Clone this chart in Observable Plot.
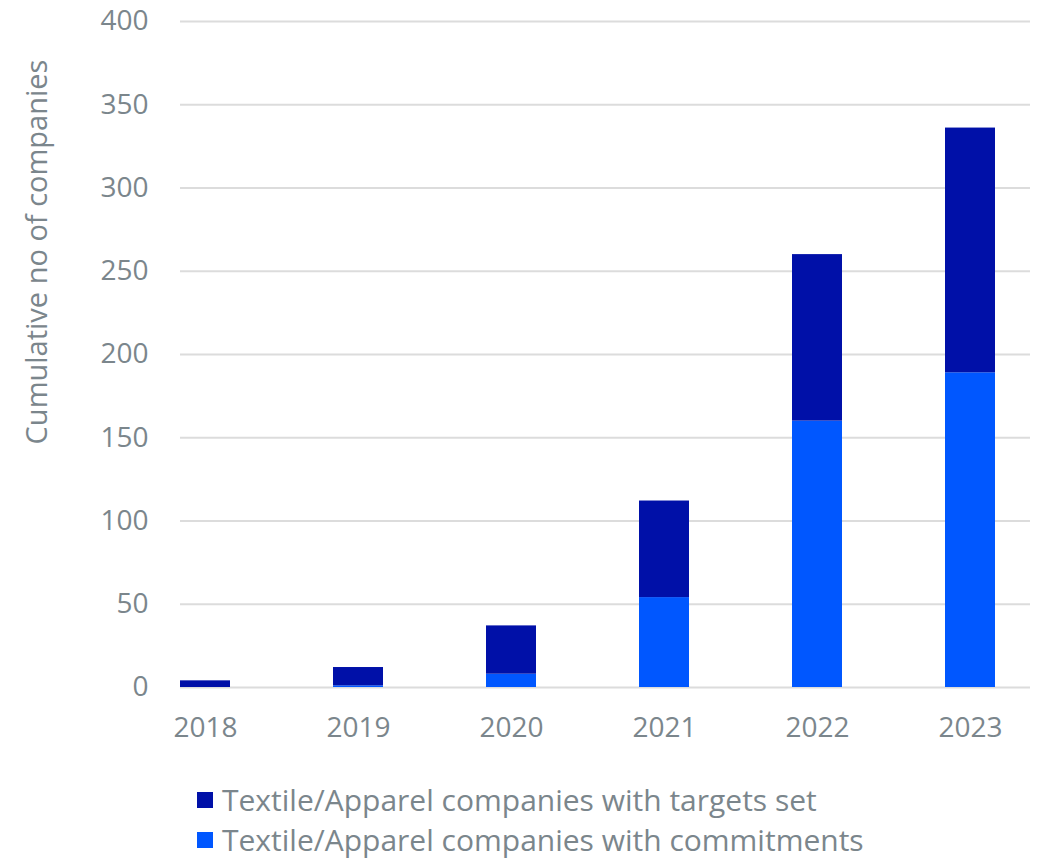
<!DOCTYPE html>
<html>
<head>
<meta charset="utf-8">
<script src="https://cdn.jsdelivr.net/npm/d3@7"></script>
<script src="https://cdn.jsdelivr.net/npm/@observablehq/plot@0.6"></script>
<style>
  html, body { margin: 0; padding: 0; background: #fff; }
  #wrap { position: relative; width: 1040px; height: 860px; font-family: "Open Sans", sans-serif; color: #7b868c; }
  #legend { position: absolute; left: 197px; top: 780px; font-size: 30px; line-height: 40px; }
  .row { display: flex; align-items: center; white-space: nowrap; }
  .sw { width: 16px; height: 16px; margin-right: 9px; flex: none; }
  #ylabel { position: absolute; left: 35px; top: 252px; font-size: 29px; white-space: nowrap;
            transform: translate(-50%, -50%) rotate(-90deg); }
</style>
</head>
<body>
<div id="wrap">
  <div id="chart"></div>
  <div id="ylabel"></div>
  <div id="legend"></div>
</div>
<script>
const years = ["2018", "2019", "2020", "2021", "2022", "2023"];
const commitments = [0, 1, 8, 54, 160, 189];
const targetsSet = [4, 11, 29, 58, 100, 147];
const seriesNames = ["Textile/Apparel companies with targets set", "Textile/Apparel companies with commitments"];
const seriesColors = ["#0010A8", "#0057FF"];
const yTicks = [0, 50, 100, 150, 200, 250, 300, 350, 400];
const yLabel = "Cumulative no of companies";

const data = [];
years.forEach((y, i) => data.push({year: y, series: seriesNames[1], value: commitments[i]}));
years.forEach((y, i) => data.push({year: y, series: seriesNames[0], value: targetsSet[i]}));

const chart = Plot.plot({
  width: 1040,
  height: 760,
  marginTop: 21,
  marginBottom: 73,
  marginLeft: 180,
  marginRight: 10,
  style: {fontFamily: "'Open Sans', sans-serif", fontSize: "28px", color: "#7b868c", background: "#fff"},
  x: {type: "band", domain: years, range: [128.5, 1046.5], paddingInner: 0.673, paddingOuter: 0.3365, tickSize: 0, tickPadding: 30, label: null},
  y: {domain: [0, 400], ticks: yTicks, tickSize: 0, tickPadding: 32, label: null},
  color: {domain: seriesNames, range: seriesColors},
  marks: [
    Plot.ruleY(yTicks, {stroke: "#dcdcdc", strokeWidth: 2}),
    Plot.barY(data, {x: "year", y: "value", z: "series", fill: "series", inset: 0})
  ]
});
document.getElementById("chart").appendChild(chart);
document.getElementById("ylabel").textContent = yLabel;

const legend = document.getElementById("legend");
seriesNames.forEach((name, i) => {
  const row = document.createElement("div");
  row.className = "row";
  const sw = document.createElement("span");
  sw.className = "sw";
  sw.style.background = seriesColors[i];
  const t = document.createElement("span");
  t.textContent = name;
  row.appendChild(sw);
  row.appendChild(t);
  legend.appendChild(row);
});
</script>
</body>
</html>
